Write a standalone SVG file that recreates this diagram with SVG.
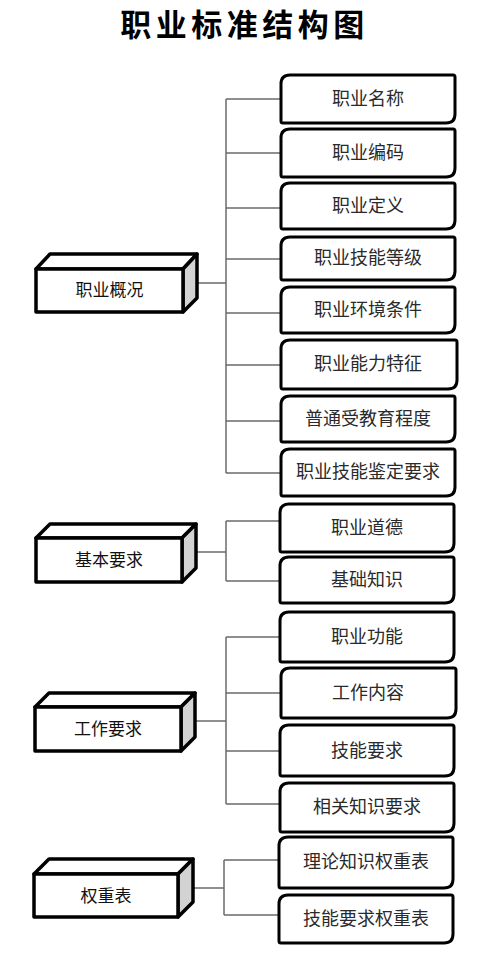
<svg xmlns="http://www.w3.org/2000/svg" width="495" height="958" viewBox="0 0 495 958">
<style>
.bg{fill:#ffffff}
.conn line{stroke:#6a6a6a;stroke-width:1.5;fill:none}
.rb{fill:#ffffff;stroke:#000;stroke-width:3;stroke-linejoin:round}
.ft{fill:#ffffff;stroke:#000;stroke-width:3.5;stroke-linejoin:round}
.sd{fill:#d3d3d3;stroke:#000;stroke-width:3.5;stroke-linejoin:round}
.t{font-family:"Noto Sans CJK SC","Noto Sans CJK JP",sans-serif;font-size:18px;fill:#2a2a2a;text-anchor:middle}
.lt{font-family:"Noto Sans CJK SC","Noto Sans CJK JP",sans-serif;font-size:17px;fill:#111;text-anchor:middle}
.title{font-family:"Noto Sans CJK SC","Noto Sans CJK JP",sans-serif;font-size:31px;font-weight:bold;letter-spacing:4.5px;fill:#000;text-anchor:middle}
</style>
<rect class="bg" x="0" y="0" width="495" height="958"/>
<text class="title" x="244.5" y="36">职业标准结构图</text>

<g id="connectors" class="conn">
<line x1="192" y1="283" x2="226" y2="283"/>
<line x1="226" y1="99" x2="226" y2="473"/>
<line x1="226" y1="99" x2="282" y2="99"/>
<line x1="226" y1="153" x2="282" y2="153"/>
<line x1="226" y1="208" x2="282" y2="208"/>
<line x1="226" y1="259" x2="282" y2="259"/>
<line x1="226" y1="313" x2="282" y2="313"/>
<line x1="226" y1="365" x2="282" y2="365"/>
<line x1="226" y1="421" x2="282" y2="421"/>
<line x1="226" y1="473" x2="282" y2="473"/>

<line x1="192" y1="552" x2="226" y2="552"/>
<line x1="226" y1="521" x2="226" y2="581"/>
<line x1="226" y1="521" x2="281" y2="521"/>
<line x1="226" y1="581" x2="281" y2="581"/>

<line x1="190" y1="721" x2="226" y2="721"/>
<line x1="226" y1="637" x2="226" y2="804"/>
<line x1="226" y1="637" x2="281" y2="637"/>
<line x1="226" y1="693" x2="281" y2="693"/>
<line x1="226" y1="751" x2="281" y2="751"/>
<line x1="226" y1="804" x2="281" y2="804"/>

<line x1="189" y1="888" x2="224" y2="888"/>
<line x1="224" y1="860" x2="224" y2="915"/>
<line x1="224" y1="860" x2="279" y2="860"/>
<line x1="224" y1="915" x2="279" y2="915"/>
</g>

<g id="n-zhiyegaikuang">
<polygon class="ft" points="36,269 50,254 197,254 183,269"/>
<polygon class="sd" points="183,269 197,254 197,298 183,312"/>
<rect class="ft" x="36" y="269" width="147" height="43"/>
<text class="lt" x="109.5" y="296">职业概况</text>
</g>
<g id="n-jibenyaoqiu">
<polygon class="ft" points="36,538 50,524 196,524 182,538"/>
<polygon class="sd" points="182,538 196,524 196,568 182,582"/>
<rect class="ft" x="36" y="538" width="146" height="44"/>
<text class="lt" x="109" y="566">基本要求</text>
</g>
<g id="n-gongzuoyaoqiu">
<polygon class="ft" points="35,707 49,693 195,693 181,707"/>
<polygon class="sd" points="181,707 195,693 195,737 181,751"/>
<rect class="ft" x="35" y="707" width="146" height="44"/>
<text class="lt" x="108" y="735">工作要求</text>
</g>
<g id="n-quanzhongbiao">
<polygon class="ft" points="34,874 49,859 193,859 178,874"/>
<polygon class="sd" points="178,874 193,859 193,902 178,917"/>
<rect class="ft" x="34" y="874" width="144" height="43"/>
<text class="lt" x="106" y="902">权重表</text>
</g>

<g id="n1"><path class="rb" d="M281,84 Q281,75 290,75 L453,75 Q455,75 455,77 L455,114 Q455,123 446,123 L283,123 Q281,123 281,121 Z"/><text class="t" x="368" y="105">职业名称</text></g>
<g id="n2"><path class="rb" d="M281,138 Q281,129 290,129 L453,129 Q455,129 455,131 L455,168 Q455,177 446,177 L283,177 Q281,177 281,175 Z"/><text class="t" x="368" y="159">职业编码</text></g>
<g id="n3"><path class="rb" d="M281,192 Q281,183 290,183 L453,183 Q455,183 455,185 L455,220 Q455,229 446,229 L283,229 Q281,229 281,227 Z"/><text class="t" x="368" y="212">职业定义</text></g>
<g id="n4"><path class="rb" d="M281,246 Q281,237 290,237 L453,237 Q455,237 455,239 L455,271 Q455,280 446,280 L283,280 Q281,280 281,278 Z"/><text class="t" x="368" y="264">职业技能等级</text></g>
<g id="n5"><path class="rb" d="M281,296 Q281,287 290,287 L453,287 Q455,287 455,289 L455,324 Q455,333 446,333 L283,333 Q281,333 281,331 Z"/><text class="t" x="368" y="316">职业环境条件</text></g>
<g id="n6"><path class="rb" d="M281,349 Q281,340 290,340 L455,340 Q457,340 457,342 L457,380 Q457,389 448,389 L283,389 Q281,389 281,387 Z"/><text class="t" x="368" y="370">职业能力特征</text></g>
<g id="n7"><path class="rb" d="M281,405 Q281,396 290,396 L453,396 Q455,396 455,398 L455,433 Q455,442 446,442 L283,442 Q281,442 281,440 Z"/><text class="t" x="368" y="425">普通受教育程度</text></g>
<g id="n8"><path class="rb" d="M281,458 Q281,449 290,449 L453,449 Q455,449 455,451 L455,487 Q455,496 446,496 L283,496 Q281,496 281,494 Z"/><text class="t" x="368" y="478">职业技能鉴定要求</text></g>
<g id="n9"><path class="rb" d="M280,513 Q280,504 289,504 L452,504 Q454,504 454,506 L454,543 Q454,552 445,552 L282,552 Q280,552 280,550 Z"/><text class="t" x="367" y="534">职业道德</text></g>
<g id="n10"><path class="rb" d="M280,566 Q280,557 289,557 L452,557 Q454,557 454,559 L454,594 Q454,603 445,603 L282,603 Q280,603 280,601 Z"/><text class="t" x="367" y="586">基础知识</text></g>
<g id="n11"><path class="rb" d="M280,621 Q280,612 289,612 L452,612 Q454,612 454,614 L454,653 Q454,662 445,662 L282,662 Q280,662 280,660 Z"/><text class="t" x="367" y="643">职业功能</text></g>
<g id="n12"><path class="rb" d="M281,677 Q281,668 290,668 L454,668 Q456,668 456,670 L456,709 Q456,718 447,718 L283,718 Q281,718 281,716 Z"/><text class="t" x="368" y="699">工作内容</text></g>
<g id="n13"><path class="rb" d="M280,734 Q280,725 289,725 L452,725 Q454,725 454,727 L454,767 Q454,776 445,776 L282,776 Q280,776 280,774 Z"/><text class="t" x="367" y="757">技能要求</text></g>
<g id="n14"><path class="rb" d="M280,792 Q280,783 289,783 L452,783 Q454,783 454,785 L454,823 Q454,832 445,832 L282,832 Q280,832 280,830 Z"/><text class="t" x="367" y="813">相关知识要求</text></g>
<g id="n15"><path class="rb" d="M279,846 Q279,837 288,837 L451,837 Q453,837 453,839 L453,879 Q453,888 444,888 L281,888 Q279,888 279,886 Z"/><text class="t" x="366" y="868">理论知识权重表</text></g>
<g id="n16"><path class="rb" d="M279,904 Q279,895 288,895 L451,895 Q453,895 453,897 L453,934 Q453,943 444,943 L281,943 Q279,943 279,941 Z"/><text class="t" x="366" y="925">技能要求权重表</text></g>
</svg>
